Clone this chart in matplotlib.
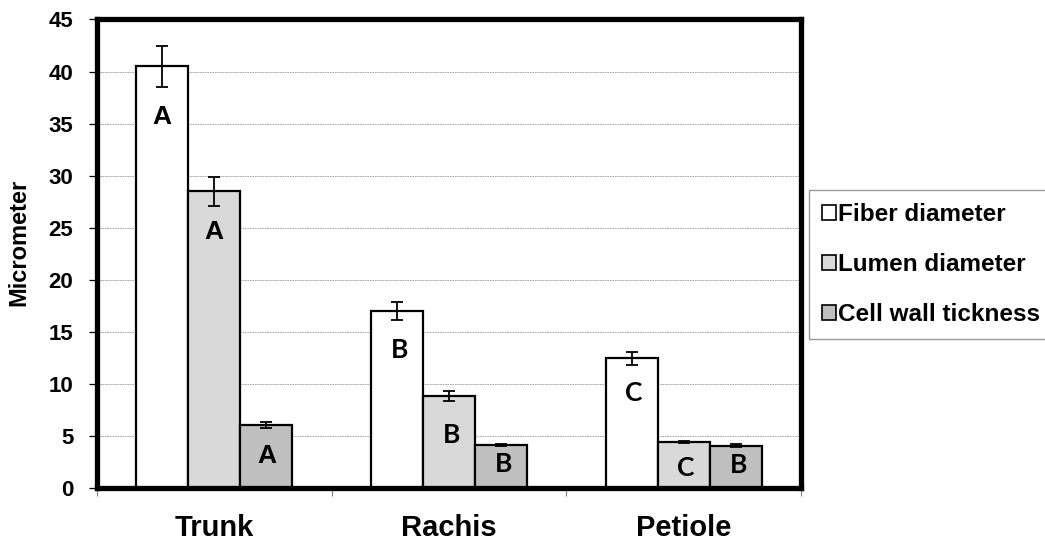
"""Fiber dimensions of trunk, rachis and petiole: grouped bars with error bars."""
import matplotlib
matplotlib.use("Agg")
import matplotlib.pyplot as plt
import numpy as np

tissues = ["Trunk", "Rachis", "Petiole"]
series = ["Fiber diameter", "Lumen diameter", "Cell wall tickness"]

fiber = [40.5, 17.0, 12.45]
fiber_err = [2.0, 0.85, 0.65]
lumen = [28.5, 8.85, 4.4]
lumen_err = [1.4, 0.47, 0.12]
wall = [6.05, 4.12, 4.08]
wall_err = [0.3, 0.12, 0.12]

# significance letters and where they sit (data units)
fiber_letters = ["A", "B", "C"]
lumen_letters = ["A", "B", "C"]
wall_letters = ["A", "B", "B"]
fiber_letter_y = [35.6, 13.3, 9.1]
lumen_letter_y = [24.6, 5.1, 1.9]
wall_letter_y = [3.1, 2.3, 2.2]

colors = ["#ffffff", "#d9d9d9", "#bfbfbf"]

plt.rcParams["font.family"] = ["Liberation Sans", "DejaVu Sans"]

fig = plt.figure(figsize=(10.45, 5.44), dpi=100)
ax = fig.add_axes([0.0928, 0.1029, 0.6737, 0.8613])

x = np.arange(len(tissues))
w = 0.222
values = [fiber, lumen, wall]
errors = [fiber_err, lumen_err, wall_err]
letters = [fiber_letters, lumen_letters, wall_letters]
letter_y = [fiber_letter_y, lumen_letter_y, wall_letter_y]

for i, (vals, errs, col, lab) in enumerate(zip(values, errors, colors, series)):
    pos = x + (i - 1) * w
    ax.bar(pos, vals, width=w, color=col, edgecolor="black", linewidth=1.6,
           label=lab, zorder=3)
    ax.errorbar(pos, vals, yerr=errs, fmt="none", ecolor="black",
                elinewidth=1.3, capsize=4.5, capthick=1.3, zorder=4)
    for p, let, ly in zip(pos, letters[i], letter_y[i]):
        if let == "A":
            ax.text(p, ly, let, ha="center", va="center", fontsize=19,
                    fontweight="bold", family="Liberation Sans", zorder=5)
        else:
            ax.text(p + 0.01, ly, let, ha="center", va="center", fontsize=19,
                    fontweight="bold", family="Lato", zorder=5)

ax.set_xlim(-0.5, 2.5)
ax.set_ylim(0, 45)
ax.set_yticks(np.arange(0, 46, 5))
ax.set_xticks(x)
ax.set_xticklabels(tissues, fontsize=21, fontweight="bold")
ax.set_xticks([-0.5, 0.5, 1.5, 2.5], minor=True)
ax.tick_params(axis="x", which="major", length=0, pad=19)
ax.tick_params(axis="x", which="minor", length=6, width=0.8, color="#808080",
               direction="out")
ax.tick_params(axis="y", length=6, width=0.9, pad=11, labelsize=16)
for t in ax.get_yticklabels():
    t.set_fontweight("bold")

ax.grid(axis="y", color="#9a9a9a", linestyle=(0, (2, 1)), linewidth=0.6,
        zorder=0)
ax.set_axisbelow(True)
for s in ax.spines.values():
    s.set_linewidth(3.8)
    s.set_color("black")
    s.set_zorder(6)

ax.set_ylabel("Micrometer", fontsize=17, fontweight="bold")
ax.yaxis.set_label_coords(-0.094, 0.525)

leg = fig.legend(loc="upper left", bbox_to_anchor=(809 / 1045, 1 - 190 / 544),
                 prop={"weight": "bold", "size": 17.5},
                 frameon=True, fancybox=False, edgecolor="#808080",
                 handlelength=0.55, handleheight=0.55, handletextpad=0.1,
                 labelspacing=1.1, borderpad=0.55, borderaxespad=0)
leg.get_frame().set_linewidth(1.0)
for h in leg.legend_handles:
    h.set_linewidth(1.2)

fig.savefig("out.png", dpi=100)
